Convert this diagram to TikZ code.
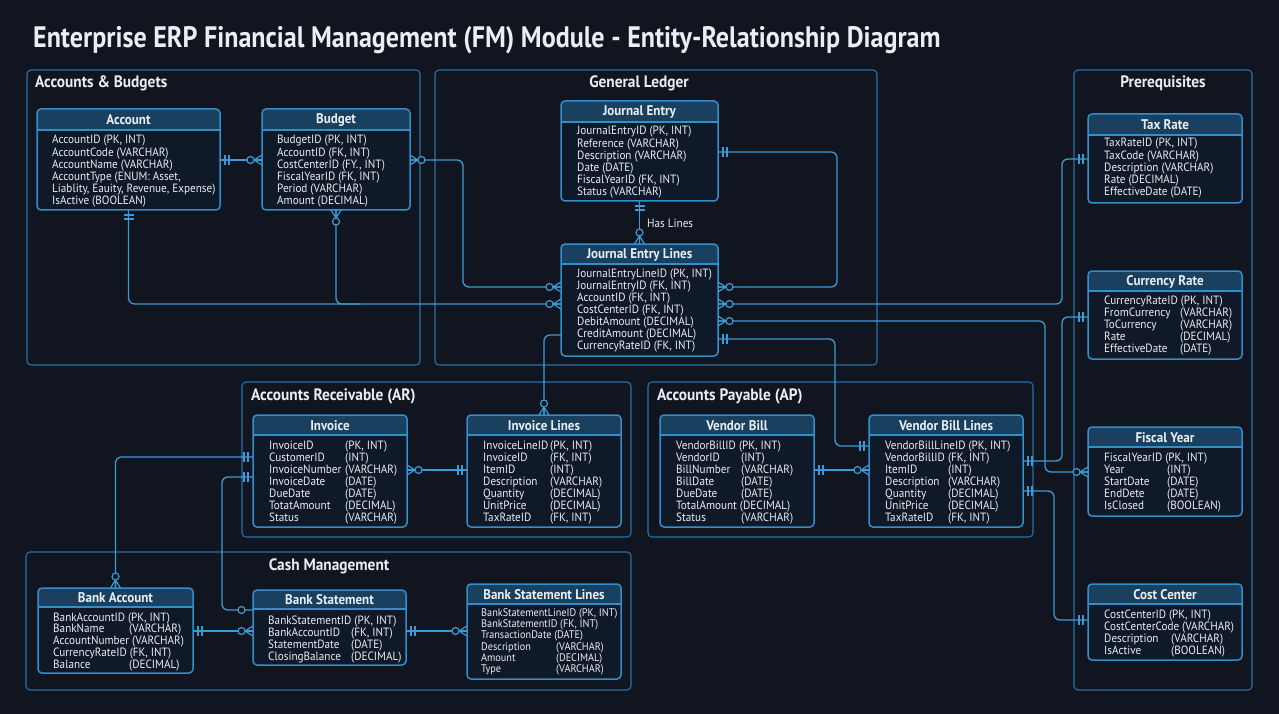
\documentclass[tikz,border=0pt]{standalone}
\usepackage{fontspec}
\setmainfont{PT Sans}[FakeStretch=0.88]
\newfontfamily\bodyf{PT Sans}[FakeStretch=0.93]
\usepackage{array}
\definecolor{bg}{RGB}{16,21,31}
\definecolor{panelc}{RGB}{38,112,172}
\definecolor{boxc}{RGB}{50,142,205}
\definecolor{linec}{RGB}{60,155,215}
\definecolor{hdrc}{RGB}{25,64,95}
\definecolor{bodyc}{RGB}{15,25,39}
\definecolor{txt}{RGB}{232,238,244}
\tikzset{
  panel/.style={draw=panelc, line width=1.1pt, rounded corners=4pt},
  ptitle/.style={text=txt, font=\bodyf\fontsize{16.5}{18}\selectfont\bfseries, inner sep=0pt},
  entbox/.style={draw=boxc, line width=1.5pt, rounded corners=4pt, inner sep=0pt, outer sep=0pt},
  etitle/.style={text=txt, font=\bodyf\fontsize{14}{15}\selectfont\bfseries, inner sep=0pt},
  ebody/.style={text=txt, font=\bodyf\fontsize{12}{12}\selectfont, inner sep=0pt, anchor=base west},
  ebodya/.style={text=txt, font=\bodyf\fontsize{12}{11.5}\selectfont, inner sep=0pt, anchor=base west},
  ebodyb/.style={text=txt, font=\bodyf\fontsize{12}{11.7}\selectfont, inner sep=0pt, anchor=base west},
  ebodys/.style={text=txt, font=\bodyf\fontsize{11}{11.2}\selectfont, inner sep=0pt, anchor=base west},
  conn/.style={draw=linec, line width=1.3pt, rounded corners=6pt},
  erone/.pic={\draw[linec, line width=1.2pt] (5,-5) -- (5,5) (9,-5) -- (9,5);},
  ermany/.pic={\draw[linec, line width=1.2pt] (0,-5) -- (8,0) -- (0,5) (0,0) -- (8,0);
               \filldraw[draw=linec, fill=bg, line width=1.2pt] (11.5,0) circle[radius=3.5pt];},
  erzero/.pic={\filldraw[draw=linec, fill=bg, line width=1.2pt] (11.5,0) circle[radius=3.5pt];},
}
\newcommand\erent[7]{%
  \fill[bodyc, rounded corners=4pt] (#2,#3) rectangle (#4,#5);
  \fill[hdrc, rounded corners=4pt] (#2,#3) rectangle (#4,#6);
  \fill[hdrc] (#2,#6-5) rectangle (#4,#6);
  \draw[boxc, line width=1.2pt] (#2,#6) -- (#4,#6);
  \node[entbox, minimum width={(#4-#2)*1pt}, minimum height={(#5-#3)*1pt}] (#1) at ({(#2+#4)/2},{(#3+#5)/2}) {};
  \node[etitle] (#1-t) at ({(#2+#4)/2},{(#3+#6)/2+0.5}) {#7};
}
\newcommand\tcol[2]{\begin{tabular}[t]{@{}p{#1pt}@{}l@{}}#2\end{tabular}}
\newcommand\scol[1]{\begin{tabular}[t]{@{}l@{}}#1\end{tabular}}
\newcommand\mc[1]{\multicolumn{2}{@{}l@{}}{#1}}
\begin{document}
\begin{tikzpicture}[x=1pt, y=-1pt]
\fill[bg] (0,0) rectangle (1279,714);
\useasboundingbox (0,0) rectangle (1279,714);

% title
\node[anchor=base west, text=txt, font=\fontsize{29.6}{30}\selectfont\bfseries, inner sep=0pt] (title) at (33,48)
  {Enterprise ERP Financial Management (FM) Module - Entity-Relationship Diagram};

% panels
\draw[panel] (27,70) rectangle (420,365);
\node[ptitle, anchor=west] (pab) at (35,83) {Accounts \& Budgets};
\draw[panel] (435,70) rectangle (877,365);
\node[ptitle] (pgl) at (639,83) {General Ledger};
\draw[panel] (1074,70) rectangle (1252,690);
\node[ptitle] (ppr) at (1163,83) {Prerequisites};
\draw[panel] (242,382) rectangle (631,537);
\node[ptitle, anchor=west] (par) at (251,396) {Accounts Receivable (AR)};
\draw[panel] (648,382) rectangle (1033,537);
\node[ptitle, anchor=west] (pap) at (657,396) {Accounts Payable (AP)};
\draw[panel] (26,552) rectangle (631,690);
\node[ptitle] (pcm) at (329,566) {Cash Management};

% entities
\erent{acc}{37}{109}{220}{210}{130}{Account}
\node[ebody] (acc-b) at (52,144) {\scol{AccountID (PK, INT)\\AccountCode (VARCHAR)\\AccountName (VARCHAR)\\AccountType (ENUM: Asset,\\Liablity, Eauity, Revenue, Expense)\\IsActive (BOOLEAN)}};

\erent{bud}{262}{109}{410}{210}{130}{Budget}
\node[ebody] (bud-b) at (277,144) {\scol{BudgetID (PK, INT)\\AccountID (FK, INT)\\CostCenterID (FY., INT)\\FiscalYearID (FK, INT)\\Period (VARCHAR)\\Amount (DECIMAL)}};

\erent{je}{561}{101}{718}{201}{122}{Journal Entry}
\node[ebody] (je-b) at (577,135) {\scol{JournalEntryID (PK, INT)\\Reference (VARCHAR)\\Description (VARCHAR)\\Date (DATE)\\FiscalYearID (FK, INT)\\Status (VARCHAR)}};

\erent{jel}{561}{244}{718}{356}{264}{Journal Entry Lines}
\node[ebody] (jel-b) at (577,277) {\scol{JournalEntryLineID (PK, INT)\\JournalEntryID (FK, INT)\\AccountID (FK, INT)\\CostCenterID (FK, INT)\\DebitAmount (DECIMAL)\\CreditAmount (DECIMAL)\\CurrencyRateID (FK, INT)}};

\erent{tax}{1088}{114}{1242}{203}{135}{Tax Rate}
\node[ebody] (tax-b) at (1104,147) {\scol{TaxRateID (PK, INT)\\TaxCode (VARCHAR)\\Description (VARCHAR)\\Rate (DECIMAL)\\EffectiveDate (DATE)}};

\erent{cr}{1088}{271}{1242}{359}{291}{Currency Rate}
\node[ebody] (cr-b) at (1104,304) {\tcol{76}{\mc{CurrencyRateID (PK, INT)}\\FromCurrency & (VARCHAR)\\ToCurrency & (VARCHAR)\\Rate & (DECIMAL)\\EffectiveDate & (DATE)}};

\erent{fy}{1088}{427}{1242}{516}{447}{Fiscal Year}
\node[ebody] (fy-b) at (1104,461) {\tcol{63}{\mc{FiscalYearID (PK, INT)}\\Year & (INT)\\StartDate & (DATE)\\EndDete & (DATE)\\IsClosed & (BOOLEAN)}};

\erent{cc}{1088}{584}{1242}{660}{604}{Cost Center}
\node[ebody] (cc-b) at (1104,618) {\tcol{67}{\mc{CostCenterID (PK, INT)}\\\mc{CostCenterCode (VARCHAR)}\\Description & (VARCHAR)\\IsActive & (BOOLEAN)}};

\erent{inv}{253}{415}{407}{527}{435}{Invoice}
\node[ebody] (inv-b) at (269,449) {\tcol{76}{InvoiceID & (PK, INT)\\CustomerID & (INT)\\InvoiceNumber & (VARCHAR)\\InvoiceDate & (DATE)\\DueDate & (DATE)\\TotatAmount & (DECIMAL)\\Status & (VARCHAR)}};

\erent{il}{467}{415}{621}{527}{435}{Invoice Lines}
\node[ebody] (il-b) at (483,449) {\tcol{67}{InvoiceLineID & (PK, INT)\\InvoiceID & (FK, INT)\\ItemID & (INT)\\Description & (VARCHAR)\\Quantity & (DECIMAL)\\UnitPrice & (DECIMAL)\\TaxRateID & (FK, INT)}};

\erent{vb}{660}{415}{814}{527}{435}{Vendor Bill}
\node[ebody] (vb-b) at (676,449) {\tcol{65}{\mc{VendorBillID (PK, INT)}\\VendorID & (INT)\\BillNumber & (VARCHAR)\\BillDate & (DATE)\\DueDate & (DATE)\\\mc{TotalAmount (DECIMAL)}\\Status & (VARCHAR)}};

\erent{vbl}{869}{415}{1023}{527}{435}{Vendor Bill Lines}
\node[ebody] (vbl-b) at (885,449) {\tcol{63}{\mc{VendorBillLineID (PK, INT)}\\\mc{VendorBillID (FK, INT)}\\ItemID & (INT)\\Description & (VARCHAR)\\Quantity & (DECIMAL)\\UnitPrice & (DECIMAL)\\TaxRateID & (FK, INT)}};

\erent{ba}{38}{588}{193}{673}{607}{Bank Account}
\node[ebodya] (ba-b) at (53,621) {\tcol{76}{\mc{BankAccountID (PK, INT)}\\BankName & (VARCHAR)\\\mc{AccountNumber (VARCHAR)}\\\mc{CurrencyRateID (FK, INT)}\\Balance & (DECIMAL)}};

\erent{bs}{253}{590}{406}{665}{609}{Bank Statement}
\node[ebodyb] (bs-b) at (268,624) {\tcol{83}{\mc{BankStatementID (PK, INT)}\\BankAccountID & (FK, INT)\\StatementDate & (DATE)\\ClosingBalance & (DECIMAL)}};

\erent{bsl}{467}{584}{621}{679}{604}{Bank Statement Lines}
\node[ebodys] (bsl-b) at (481,616.5) {\tcol{75}{\mc{BankStatementLineID (PK, INT)}\\\mc{BankStatementID (FK, INT)}\\\mc{TransactionDate (DATE)}\\Description & (VARCHAR)\\Amount & (DECIMAL)\\Type & (VARCHAR)}};

% connectors
\draw[conn] (acc.east|-0,160) -- (bud.west|-0,160);
\draw[conn] (bud.east|-0,160) -- (463,160) |- (jel.west|-0,287);
\draw[conn] (acc.south) |- (jel.west|-0,304);
\draw[conn] (bud.south) |- (360,304);
\draw[conn] (je.south) -- (jel.north);
\node[text=txt, font=\bodyf\fontsize{12}{12}\selectfont, anchor=west, inner sep=0pt] (haslines) at (647,223) {Has Lines};
\draw[conn] (je.east|-0,152) -- (837,152) |- (jel.east|-0,287);
\draw[conn] (jel.east|-0,304) -- (1062,304) |- (tax.west|-0,159);
\draw[conn] (jel.east|-0,321) -- (1045,321) |- (fy.west|-0,472);
\draw[conn] (jel.east|-0,339) -- (835,339) |- (vbl.west|-0,446);
\draw[conn] (jel.west|-0,335) -| (il.north);
\draw[conn] (inv.east|-0,470) -- (il.west|-0,470);
\draw[conn] (vb.east|-0,470) -- (vbl.west|-0,470);
\draw[conn] (vbl.east|-0,461) -- (1062,461) |- (cr.west|-0,317);
\draw[conn] (vbl.east|-0,491) -- (1054,491) |- (cc.west|-0,620);
\draw[conn] (inv.west|-0,457) -| (ba.north);
\draw[conn] (inv.west|-0,477) -- (222,477) |- (bs.west|-0,610);
\draw[conn] (ba.east|-0,631) -- (bs.west|-0,631);
\draw[conn] (bs.east|-0,631) -- (bsl.west|-0,631);

% end markers
\pic at (acc.east|-0,160) {erone};
\pic[rotate=180] at (bud.west|-0,160) {ermany};
\pic at (bud.east|-0,160) {ermany};
\pic[rotate=180] at (jel.west|-0,287) {ermany};
\pic[rotate=-90] at (acc.south) {erone};
\pic[rotate=-90] at (bud.south) {ermany};
\pic[rotate=180] at (jel.west|-0,304) {ermany};
\pic[rotate=-90] at (je.south) {erone};
\pic[rotate=90] at (jel.north) {ermany};
\pic at (je.east|-0,152) {erone};
\pic at (jel.east|-0,287) {ermany};
\pic at (jel.east|-0,304) {ermany};
\pic[rotate=180] at (tax.west|-0,159) {erone};
\pic at (jel.east|-0,321) {ermany};
\pic[rotate=180] at (fy.west|-0,472) {ermany};
\pic at (jel.east|-0,339) {erone};
\pic[rotate=180] at (vbl.west|-0,446) {erone};
\pic[rotate=90] at (il.north) {ermany};
\pic at (inv.east|-0,470) {ermany};
\pic[rotate=180] at (il.west|-0,470) {erone};
\pic at (vb.east|-0,470) {erone};
\pic[rotate=180] at (vbl.west|-0,470) {ermany};
\pic at (vbl.east|-0,461) {erone};
\pic[rotate=180] at (cr.west|-0,317) {erone};
\pic at (vbl.east|-0,491) {erone};
\pic[rotate=180] at (cc.west|-0,620) {erone};
\pic[rotate=180] at (inv.west|-0,457) {erone};
\pic[rotate=90] at (ba.north) {ermany};
\pic[rotate=180] at (inv.west|-0,477) {erone};
\pic[rotate=180] at (bs.west|-0,610) {erzero};
\pic at (ba.east|-0,631) {erone};
\pic[rotate=180] at (bs.west|-0,631) {ermany};
\pic at (bs.east|-0,631) {erone};
\pic[rotate=180] at (bsl.west|-0,631) {ermany};
\end{tikzpicture}
\end{document}
